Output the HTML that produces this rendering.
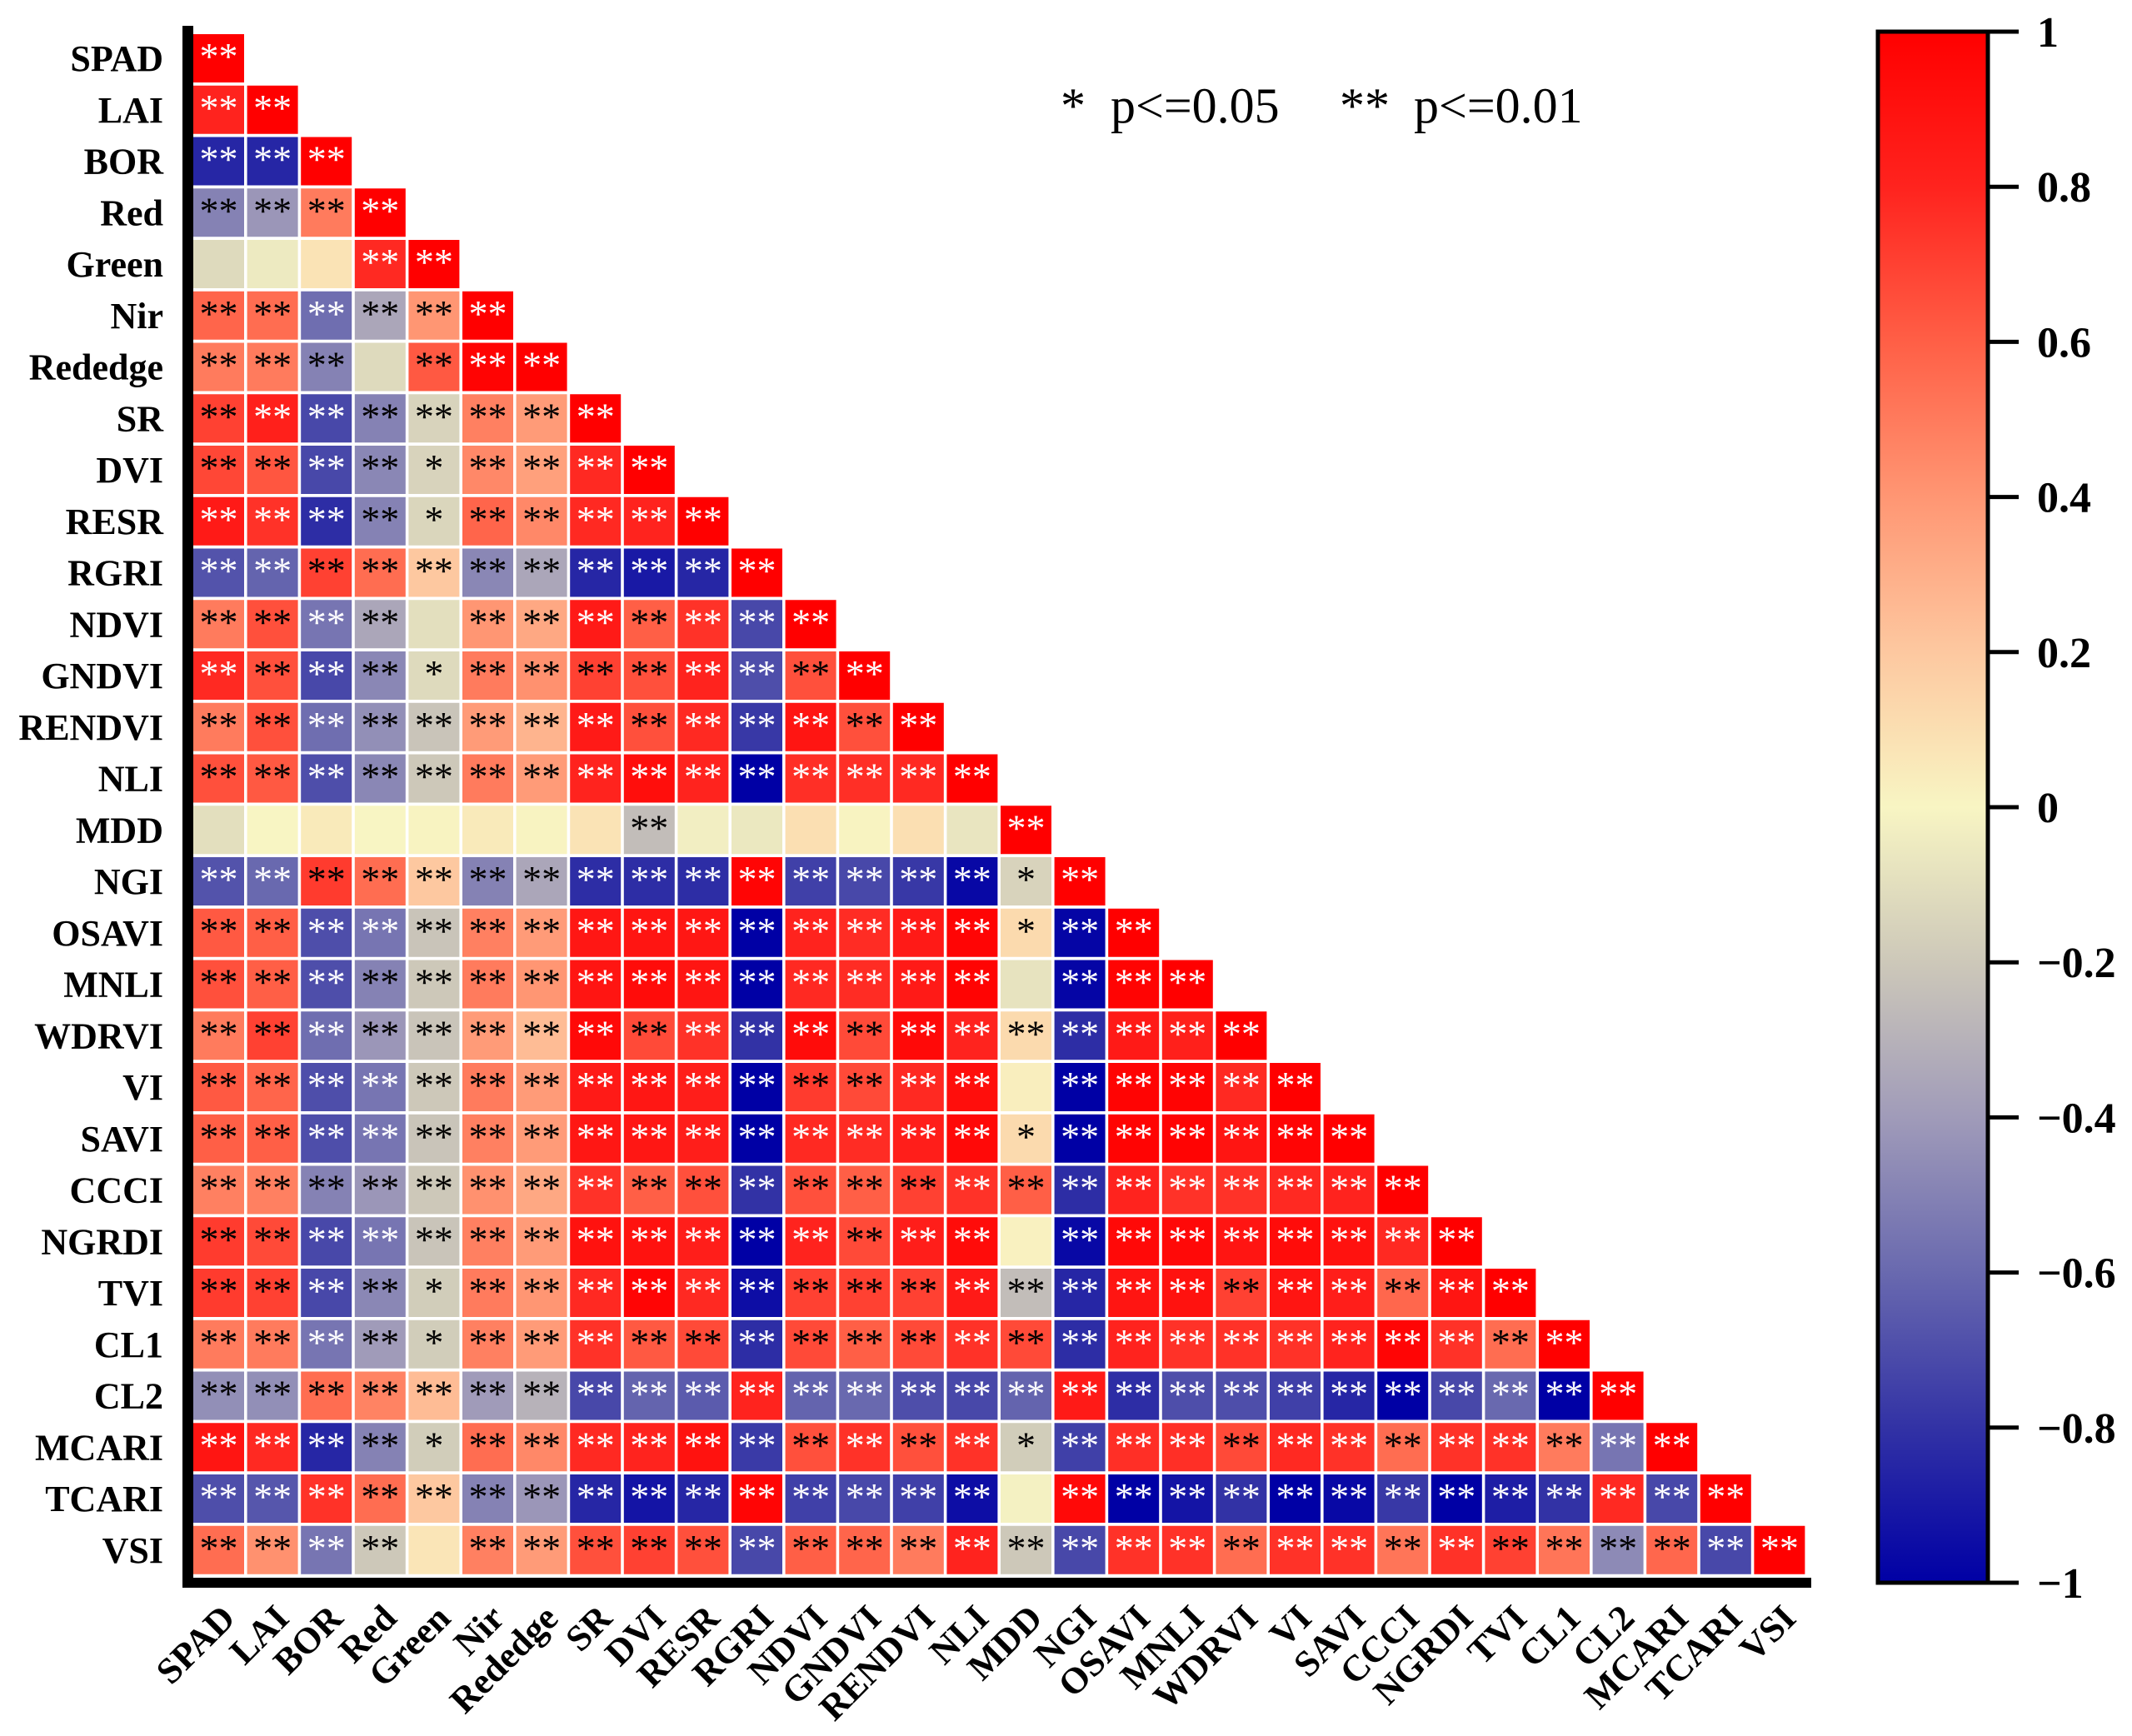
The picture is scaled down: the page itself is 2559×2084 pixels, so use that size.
<!DOCTYPE html>
<html><head><meta charset="utf-8">
<style>
html,body{margin:0;padding:0;background:#fff;}
svg{display:block;}
text{font-family:"Liberation Serif",serif;}
</style></head>
<body>
<svg id="chart" width="2559" height="2084" viewBox="0 0 2559 2084" xmlns="http://www.w3.org/2000/svg">
<defs>
<linearGradient id="cbgrad" x1="0" y1="0" x2="0" y2="1">
<stop offset="0" stop-color="#ff0000"/>
<stop offset="0.1" stop-color="#ff231e"/>
<stop offset="0.2" stop-color="#ff5f46"/>
<stop offset="0.3" stop-color="#ff9673"/>
<stop offset="0.4" stop-color="#fdc8a0"/>
<stop offset="0.5" stop-color="#f8f5c3"/>
<stop offset="0.6" stop-color="#cdc8b9"/>
<stop offset="0.7" stop-color="#a09bb9"/>
<stop offset="0.8" stop-color="#6969af"/>
<stop offset="0.9" stop-color="#3232a5"/>
<stop offset="1" stop-color="#0000a5"/>
</linearGradient>
</defs>
<g id="cells"></g>
<g id="rowlabels"></g>
<g id="collabels"></g>
<rect x="219" y="31" width="13" height="1875" fill="#000"/>
<rect x="219" y="1894" width="1955" height="12" fill="#000"/>
<rect x="2254" y="38" width="132" height="1862" fill="url(#cbgrad)" stroke="#000" stroke-width="5"/>
<g id="cbticks"></g>
<g font-size="60">
<text x="1273" y="147">*</text>
<text x="1333" y="147">p&lt;=0.05</text>
<text x="1608" y="147">**</text>
<text x="1697" y="147">p&lt;=0.01</text>
</g>
</svg>
<script>
const labels = ["SPAD","LAI","BOR","Red","Green","Nir","Rededge","SR","DVI","RESR","RGRI","NDVI","GNDVI","RENDVI","NLI","MDD","NGI","OSAVI","MNLI","WDRVI","VI","SAVI","CCCI","NGRDI","TVI","CL1","CL2","MCARI","TCARI","VSI"];
const corr = [
[1],
[.8,1],
[-.85,-.85,1],
[-.5,-.42,.5,1],
[-.12,-.05,.08,.78,1],
[.58,.55,-.58,-.35,.4,1],
[.5,.5,-.5,-.12,.62,.98,1],
[.7,.82,-.72,-.5,-.15,.48,.38,1],
[.68,.63,-.72,-.48,-.15,.45,.36,.78,1],
[.85,.75,-.82,-.5,-.14,.58,.45,.78,.8,1],
[-.68,-.62,.7,.55,.2,-.48,-.35,-.85,-.9,-.85,1],
[.5,.65,-.55,-.35,-.1,.4,.33,.85,.6,.75,-.72,1],
[.78,.65,-.72,-.48,-.12,.5,.42,.7,.65,.8,-.7,.65,1],
[.5,.65,-.58,-.45,-.22,.38,.28,.85,.65,.78,-.78,.88,.65,1],
[.65,.62,-.7,-.48,-.2,.5,.38,.8,.92,.8,-1,.76,.76,.78,1],
[-.1,0,.05,0,.01,.05,.01,.08,-.25,-.03,-.06,.1,.01,.1,-.07,1],
[-.68,-.6,.72,.55,.2,-.5,-.35,-.82,-.82,-.82,.97,-.75,-.72,-.78,-.97,-.15,1],
[.62,.6,-.7,-.55,-.22,.48,.38,.87,.88,.87,-1,.8,.77,.85,.97,.12,-.98,1],
[.65,.6,-.7,-.5,-.2,.5,.4,.88,.93,.88,-1,.78,.77,.85,.98,-.08,-.98,.98,1],
[.5,.7,-.58,-.42,-.22,.38,.25,.95,.67,.75,-.8,.93,.67,.95,.8,.12,-.82,.85,.82,1],
[.62,.58,-.7,-.55,-.2,.5,.38,.85,.87,.83,-1,.72,.67,.78,.92,.03,-1,.98,.98,.78,1],
[.6,.6,-.7,-.55,-.22,.48,.38,.87,.87,.83,-1,.78,.77,.83,.95,.12,-1,.98,.98,.88,.97,1],
[.48,.48,-.5,-.42,-.2,.42,.33,.75,.6,.65,-.8,.65,.6,.7,.75,.6,-.82,.8,.75,.75,.78,.8,1],
[.72,.67,-.72,-.55,-.22,.48,.38,.9,.9,.83,-1,.8,.67,.83,.93,.02,-.97,.95,.95,.88,.93,.9,.78,1],
[.72,.7,-.72,-.48,-.18,.5,.4,.78,.97,.78,-.95,.7,.7,.7,.85,-.25,-.85,.88,.9,.7,.88,.83,.57,.88,1],
[.5,.5,-.55,-.4,-.18,.48,.38,.75,.62,.67,-.82,.67,.6,.67,.75,.67,-.82,.8,.75,.75,.75,.8,.97,.75,.55,1],
[-.45,-.45,.55,.47,.25,-.4,-.3,-.72,-.62,-.65,.8,-.62,-.6,-.7,-.72,-.62,.85,-.82,-.7,-.7,-.75,-.85,-1,-.72,-.6,-1,1],
[.88,.78,-.85,-.5,-.18,.55,.45,.78,.8,.9,-.77,.65,.75,.65,.75,-.18,-.75,.76,.76,.67,.78,.75,.55,.75,.75,.5,-.55,1],
[-.7,-.67,.75,.55,.2,-.5,-.42,-.85,-.92,-.85,.97,-.75,-.72,-.75,-.95,-.02,.95,-1,-.92,-.8,-1,-.97,-.78,-1,-.88,-.8,.78,-.72,1],
[.55,.42,-.55,-.2,.07,.48,.38,.65,.7,.65,-.72,.6,.58,.5,.8,-.2,-.72,.75,.75,.55,.75,.75,.52,.75,.7,.52,-.47,.57,-.72,1]
];
const sig = [
"2","22","222","2222","00022","222222","2220222","22222222","222212222","2222122222",
"22222222222","222202222222","2222122222222","22222222222222","222222222222222",
"0000000020000002","22222222222222212","222222222222222122","2222222222222220222",
"22222222222222222222","222222222222222022222","2222222222222221222222",
"22222222222222222222222","222222222222222022222222","2222122222222222222222222",
"22221222222222222222222222","222222222222222222222222222","2222122222222221222222222222",
"22222222222222202222222222222","222202222222222222222222222222"
];
const cbTicks = [1,0.8,0.6,0.4,0.2,0,-0.2,-0.4,-0.6,-0.8,-1];
const cbTickLabels = ["1","0.8","0.6","0.4","0.2","0","\u22120.2","\u22120.4","\u22120.6","\u22120.8","\u22121"];

const NS="http://www.w3.org/2000/svg";
const X0=232, PX=64.6, CW=61, Y0=41, PY=61.75, CH=58;
const stops=[[1,[255,0,0]],[0.8,[255,35,30]],[0.6,[255,95,70]],[0.4,[255,150,115]],[0.2,[253,200,160]],[0,[248,245,195]],[-0.2,[205,200,185]],[-0.4,[160,155,185]],[-0.6,[105,105,175]],[-0.8,[50,50,165]],[-1,[0,0,165]]];
function color(v){
  v=Math.max(-1,Math.min(1,v));
  for(let i=0;i<stops.length-1;i++){
    const a=stops[i],b=stops[i+1];
    if(v<=a[0]&&v>=b[0]){
      const t=(a[0]-v)/(a[0]-b[0]);
      const c=a[1].map((x,k)=>Math.round(x+(b[1][k]-x)*t));
      return "rgb("+c.join(",")+")";
    }
  }
  return "rgb(0,0,165)";
}
function xPos(j){return X0+j*PX;}
function yPos(i){return Y0+i*PY;}
function cbY(v){return 38+(1-v)*931;}

const cells=document.getElementById("cells");
for(let i=0;i<corr.length;i++){
  for(let j=0;j<corr[i].length;j++){
    const v=corr[i][j];
    const r=document.createElementNS(NS,"rect");
    r.setAttribute("x",xPos(j));r.setAttribute("y",yPos(i));
    r.setAttribute("width",CW);r.setAttribute("height",CH);
    r.setAttribute("fill",color(v));
    
    
    cells.appendChild(r);
    const s=+sig[i][j];
    if(s>0){
      const t=document.createElementNS(NS,"text");
      t.setAttribute("x",xPos(j)+CW/2);t.setAttribute("y",yPos(i)+42);
      t.setAttribute("text-anchor","middle");t.setAttribute("font-size","46");
      t.setAttribute("fill",(v>=0.75||v<=-0.52)?"#fff":"#000");
      t.textContent=s===2?"**":"*";
      
      
      cells.appendChild(t);
    }
  }
}
const rl=document.getElementById("rowlabels");
const cl=document.getElementById("collabels");
labels.forEach((lab,i)=>{
  const t=document.createElementNS(NS,"text");
  t.setAttribute("x",196);t.setAttribute("y",yPos(i)+CH/2+15);
  t.setAttribute("text-anchor","end");t.setAttribute("font-size","44");t.setAttribute("font-weight","bold");
  t.textContent=lab;
  
  
  rl.appendChild(t);
  const c=document.createElementNS(NS,"text");
  const ax=xPos(i)+CW/2+22, ay=1945;
  c.setAttribute("x",ax);c.setAttribute("y",ay);
  c.setAttribute("text-anchor","end");c.setAttribute("font-size","44");c.setAttribute("font-weight","bold");
  c.setAttribute("transform","rotate(-45 "+ax+" "+ay+")");
  c.textContent=lab;
  
  
  cl.appendChild(c);
});
const tk=document.getElementById("cbticks");
cbTicks.forEach((v,k)=>{
  const y=cbY(v);
  const l=document.createElementNS(NS,"line");
  l.setAttribute("x1",2386);l.setAttribute("x2",2423);l.setAttribute("y1",y);l.setAttribute("y2",y);
  l.setAttribute("stroke","#000");l.setAttribute("stroke-width","5");
  
  
  tk.appendChild(l);
  const t=document.createElementNS(NS,"text");
  t.setAttribute("x",2445);t.setAttribute("y",y+18);
  t.setAttribute("font-size","52");t.setAttribute("font-weight","bold");
  t.textContent=cbTickLabels[k];
  
  
  tk.appendChild(t);
});
</script>
</body></html>
